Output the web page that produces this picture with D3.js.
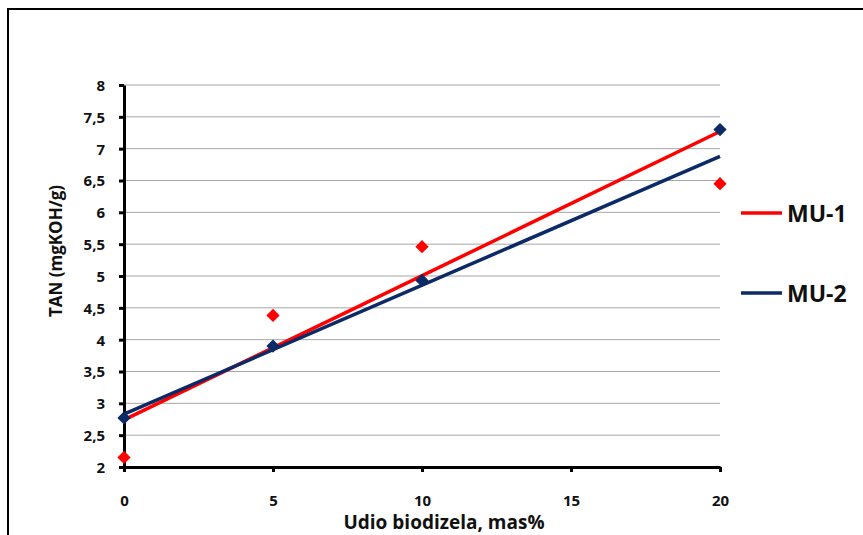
<!DOCTYPE html>
<html>
<head>
<meta charset="utf-8">
<script src="https://cdn.jsdelivr.net/npm/d3@7"></script>
<style>
  body { margin: 0; background: #fff; }
  svg { display: block; }
</style>
</head>
<body>
<div id="chart"></div>
<script>
// measured points
var xVals = [0, 5, 10, 20];
var mu1 = [2.15, 4.38, 5.46, 6.45];
var mu2 = [2.77, 3.90, 4.93, 7.30];

// trend lines (x, y at both ends)
var trendRedX = [0, 20];
var trendRedY = [2.74, 7.27];
var trendBlueX = [0, 20];
var trendBlueY = [2.83, 6.88];

var yTicks = [2, 2.5, 3, 3.5, 4, 4.5, 5, 5.5, 6, 6.5, 7, 7.5, 8];
var xTicks = [0, 5, 10, 15, 20];
var seriesNames = ["MU-1", "MU-2"];

var width = 863, height = 535;
var red = "#ff0000", navy = "#0c2a66";
var font = "'Open Sans', 'DejaVu Sans', sans-serif";

var svg = d3.select("#chart").append("svg")
	.attr("width", width)
	.attr("height", height)
	.style("font-family", font);

// outer frame
svg.append("rect")
	.attr("x", 8).attr("y", 9)
	.attr("width", 900).attr("height", 600)
	.attr("fill", "none")
	.attr("stroke", "#000")
	.attr("stroke-width", 2);

var x = d3.scaleLinear().domain([0, 20]).range([124, 720]);
var y = d3.scaleLinear().domain([2, 8]).range([467, 85]);

var fmt = function(d){ return String(d).replace(".", ","); };

// gridlines
svg.append("g")
	.selectAll("line")
	.data(yTicks.slice(1))
	.enter().append("line")
	.attr("x1", x(0)).attr("x2", x(20))
	.attr("y1", function(d){ return y(d); })
	.attr("y2", function(d){ return y(d); })
	.attr("stroke", "#a6a6a6")
	.attr("stroke-width", 1);

var yAxis = svg.append("g")
	.attr("transform", "translate(" + x(0) + ",0)")
	.call(d3.axisLeft(y).tickValues(yTicks).tickFormat(fmt).tickSize(5).tickSizeOuter(0).tickPadding(14));
yAxis.select(".domain").attr("stroke-width", 3);
yAxis.selectAll(".tick line").attr("stroke-width", 3);
yAxis.selectAll(".tick text").attr("dy", "0.36em");

var xAxis = svg.append("g")
	.attr("transform", "translate(0," + y(2) + ")")
	.call(d3.axisBottom(x).tickValues(xTicks).tickFormat(fmt).tickSize(5).tickSizeOuter(0).tickPadding(23));

xAxis.select(".domain").attr("stroke-width", 3);
xAxis.selectAll(".tick line").attr("stroke-width", 3);

svg.selectAll(".tick text")
	.attr("font-family", font)
	.style("font-size", "15px")
	.attr("font-weight", "bold")
	.attr("fill", "#111");

// axis titles
svg.append("text")
	.attr("transform", "translate(62,251) rotate(-90)")
	.attr("text-anchor", "middle")
	.attr("font-size", 17)
	.attr("font-weight", "bold")
	.attr("fill", "#111")
	.text("TAN (mgKOH/g)");

svg.append("text")
	.attr("x", 444).attr("y", 529)
	.attr("text-anchor", "middle")
	.attr("font-size", 19)
	.attr("font-weight", "bold")
	.attr("fill", "#111")
	.text("Udio biodizela, mas%");

var diamond = d3.symbol().type(d3.symbolSquare).size(88);
var line = d3.line()
	.x(function(d){ return x(d[0]); })
	.y(function(d){ return y(d[1]); });

// MU-1 points
svg.append("g").selectAll("path")
	.data(d3.zip(xVals, mu1))
	.enter().append("path")
	.attr("d", diamond)
	.attr("transform", function(d){ return "translate(" + x(d[0]) + "," + y(d[1]) + ") rotate(45)"; })
	.attr("fill", red);

// red trend line
svg.append("path")
	.datum(d3.zip(trendRedX, trendRedY))
	.attr("d", line)
	.attr("fill", "none")
	.attr("stroke", red)
	.attr("stroke-width", 3.5);

// MU-2 points
svg.append("g").selectAll("path")
	.data(d3.zip(xVals, mu2))
	.enter().append("path")
	.attr("d", diamond)
	.attr("transform", function(d){ return "translate(" + x(d[0]) + "," + y(d[1]) + ") rotate(45)"; })
	.attr("fill", navy);

// blue trend line
svg.append("path")
	.datum(d3.zip(trendBlueX, trendBlueY))
	.attr("d", line)
	.attr("fill", "none")
	.attr("stroke", navy)
	.attr("stroke-width", 3.5);

// legend
var legend = svg.append("g").selectAll("g")
	.data(seriesNames)
	.enter().append("g")
	.attr("transform", function(d, i){ return "translate(741," + (213 + i * 80) + ")"; });

legend.append("line")
	.attr("x1", 0).attr("x2", 41)
	.attr("stroke", function(d, i){ return i == 0 ? red : navy; })
	.attr("stroke-width", 3.5);

legend.append("text")
	.attr("x", 46).attr("y", 8.5)
	.attr("font-size", 23)
	.attr("font-weight", "bold")
	.attr("fill", "#111")
	.text(function(d){ return d; });
</script>
</body>
</html>
